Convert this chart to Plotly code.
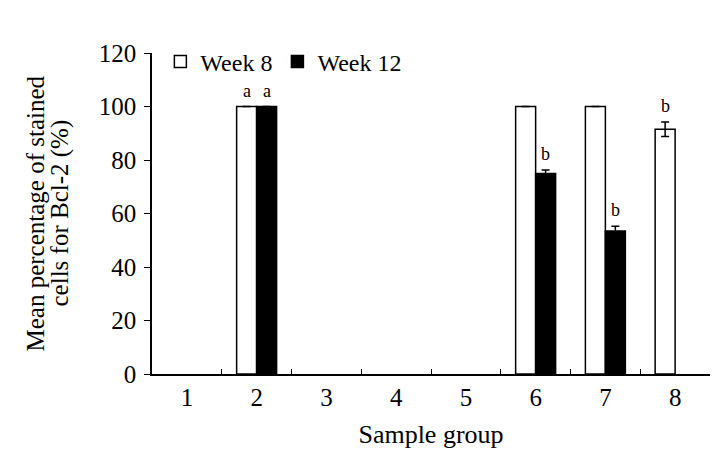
import plotly.graph_objects as go

groups = ["1", "2", "3", "4", "5", "6", "7", "8"]
week8 = [0, 100, 0, 0, 0, 100, 100, 91.5]
week8_err = [0, 0, 0, 0, 0, 0, 0, 2.7]
week8_lab = ["", "a", "", "", "", "", "", "b"]
week12 = [0, 100, 0, 0, 0, 75, 53.5, 0]
week12_err = [0, 0, 0, 0, 0, 1.3, 1.7, 0]
week12_lab = ["", "a", "", "", "", "b", "b", ""]
y_ticks = [0, 20, 40, 60, 80, 100, 120]
y_title_lines = ["Mean percentage of stained", "cells for Bcl-2 (%)"]
x_title = "Sample group"

FONT = "Liberation Serif"


def shown(vals):
    return [v if v else None for v in vals]


fig = go.Figure()
fig.add_trace(go.Bar(
    x=groups, y=shown(week8), name="Week 8",
    marker=dict(color="white", line=dict(color="black", width=1.5)),
    error_y=dict(type="data", array=week8_err, visible=True, color="black", thickness=1.5, width=4),
))
fig.add_trace(go.Bar(
    x=groups, y=shown(week12), name="Week 12",
    marker=dict(color="black", line=dict(color="black", width=1.5)),
    error_y=dict(type="data", array=week12_err, visible=True, color="black", thickness=1.5, width=4),
))

# significance letters (category index used as x on the category axis)
for vals, errs, labs, shift in [(week8, week8_err, week8_lab, -10), (week12, week12_err, week12_lab, 10)]:
    for i, (v, e, l) in enumerate(zip(vals, errs, labs)):
        if l:
            fig.add_annotation(x=i, y=v + e, xref="x", yref="y", text=l, showarrow=False,
                               xshift=shift, yanchor="bottom", yshift=4,
                               font=dict(family=FONT, size=18, color="black"))

# two-line y-axis title with tight line spacing
for line, shift in zip(y_title_lines, [-117, -93]):
    fig.add_annotation(x=0, y=0.5, xref="paper", yref="paper", text=line, textangle=-90,
                       showarrow=False, xanchor="center", yanchor="middle", xshift=shift,
                       font=dict(family=FONT, size=25, color="black"))

fig.update_layout(
    width=710, height=442,
    margin=dict(l=144, r=8, t=45, b=76, autoexpand=False),
    paper_bgcolor="white", plot_bgcolor="white",
    barmode="group", bargap=0.427, bargroupgap=0,
    font=dict(family=FONT, size=22, color="black"),
    showlegend=True,
    legend=dict(orientation="h", x=0.015, y=0.972, xanchor="left", yanchor="middle",
                font=dict(family=FONT, size=24), bgcolor="rgba(0,0,0,0)",
                tracegroupgap=0),
    xaxis=dict(
        type="category",
        title=dict(text=x_title, font=dict(size=26), standoff=15),
        showline=True, linecolor="black", linewidth=1.5,
        ticks="inside", tickson="boundaries", ticklen=5, tickcolor="black",
        showgrid=False, tickfont=dict(size=25), ticklabelstandoff=0, automargin=False,
    ),
    yaxis=dict(
        range=[0, 120], tickvals=y_ticks, showline=True, linecolor="black", linewidth=1.5,
        ticks="outside", ticklen=6, tickcolor="black", showgrid=False, zeroline=False,
        tickfont=dict(size=25), ticklabelstandoff=3, automargin=False,
    ),
)

fig.write_html("out.html")
